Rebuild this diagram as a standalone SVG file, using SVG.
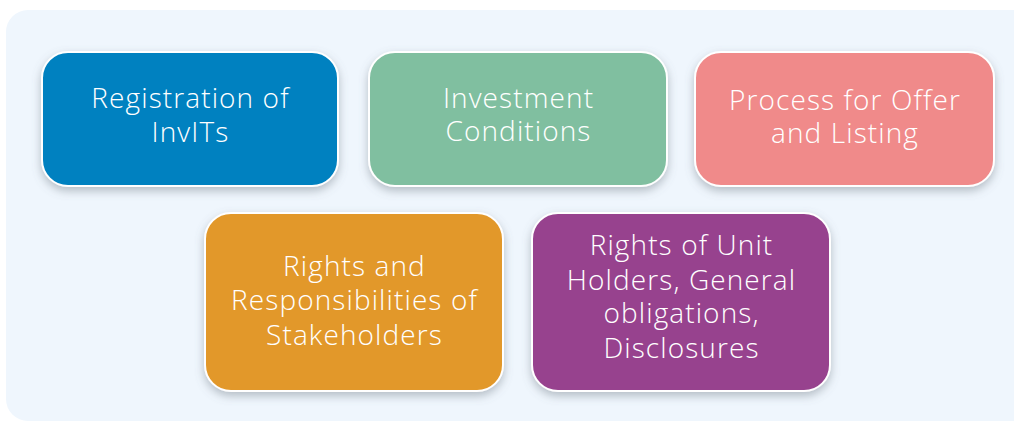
<svg xmlns="http://www.w3.org/2000/svg" width="1014" height="421" viewBox="0 0 1014 421">
<style>
.box{stroke:#ffffff;stroke-width:2;filter:url(#sh);}
.t{font-family:"Open Sans","Liberation Sans",sans-serif;font-weight:300;font-size:28px;letter-spacing:1.1px;fill:#ffffff;text-anchor:middle;}
</style>
<defs>
<filter id="sh" x="-20%" y="-20%" width="140%" height="150%">
<feDropShadow dx="0" dy="4" stdDeviation="5" flood-color="#6b7680" flood-opacity="0.45"/>
</filter>
</defs>
<rect x="0" y="0" width="1014" height="421" fill="#ffffff"/>
<rect x="6" y="10" width="1040" height="411" rx="22" fill="#eff6fd"/>
<g id="connectors"></g>
<g id="n1">
<rect class="box" x="42" y="52" width="296" height="134" rx="26" fill="#0081c0"/>
<text class="t" x="190.5" y="108">Registration of</text>
<text class="t" x="190.5" y="142">InvITs</text>
</g>
<g id="n2">
<rect class="box" x="369" y="52" width="298" height="134" rx="26" fill="#80bfa0"/>
<text class="t" x="518.5" y="108">Investment</text>
<text class="t" x="518.5" y="141">Conditions</text>
</g>
<g id="n3">
<rect class="box" x="695" y="52" width="299" height="134" rx="26" fill="#f08a8a"/>
<text class="t" x="845" y="110">Process for Offer</text>
<text class="t" x="845" y="143">and Listing</text>
</g>
<g id="n4">
<rect class="box" x="205" y="213" width="298" height="178" rx="26" fill="#e29829"/>
<text class="t" x="354.5" y="276">Rights and</text>
<text class="t" x="354.5" y="310">Responsibilities of</text>
<text class="t" x="354.5" y="345">Stakeholders</text>
</g>
<g id="n5">
<rect class="box" x="532" y="213" width="298" height="178" rx="26" fill="#97438e"/>
<text class="t" x="681.5" y="255">Rights of Unit</text>
<text class="t" x="681.5" y="290">Holders, General</text>
<text class="t" x="681.5" y="323">obligations,</text>
<text class="t" x="681.5" y="358">Disclosures</text>
</g>
</svg>
